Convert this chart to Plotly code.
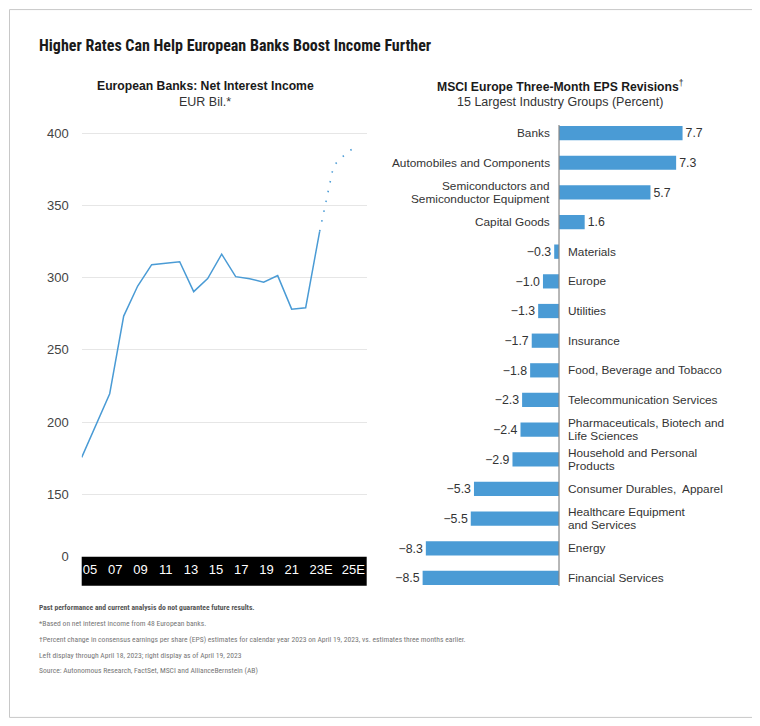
import plotly.graph_objects as go

# left panel: European banks net interest income (EUR bil.)
years = [2005, 2006, 2007, 2008, 2009, 2010, 2011, 2012, 2013, 2014,
         2015, 2016, 2017, 2018, 2019, 2020, 2021, 2022]
nii = [175.7, 198, 219.7, 273.4, 294.2, 309, 310, 311, 290.3, 299.3,
       316.2, 300.7, 299.3, 296.8, 301.4, 278.2, 279.2, 332]
est_years = [2022, 2023, 2024, 2024.7]
est_nii = [332, 377.5, 387, 391]

year_labels = ["05", "07", "09", "11", "13", "15", "17", "19", "21", "23E", "25E"]
year_label_pos = [2005.6, 2007.4, 2009.2, 2011.0, 2012.8, 2014.6, 2016.4, 2018.2, 2020.0, 2022.1, 2024.4]

y_labels = ["0", "150", "200", "250", "300", "350", "400"]
y_label_pos = [107, 150, 200, 250, 300, 350, 400]   # axis is broken between 0 and 150

# right panel: MSCI Europe three-month EPS revisions (%)
industries = ["Banks", "Automobiles and Components", "Semiconductors and<br>Semiconductor Equipment",
              "Capital Goods", "Materials", "Europe", "Utilities", "Insurance",
              "Food, Beverage and Tobacco", "Telecommunication Services",
              "Pharmaceuticals, Biotech and<br>Life Sciences", "Household and Personal<br>Products",
              "Consumer Durables,  Apparel", "Healthcare Equipment<br>and Services", "Energy",
              "Financial Services"]
revisions = [7.7, 7.3, 5.7, 1.6, -0.3, -1.0, -1.3, -1.7, -1.8, -2.3, -2.4, -2.9, -5.3, -5.5, -8.3, -8.5]

# page puts the figure 8px in; the capture squeezes the page height a little
OFF = 8
SY = 734 / 726
W, H = 760 - OFF, 734 - 2 * OFF
def px(x):
    return (x - OFF) / W
def py(y):
    return 1 - (y * SY - OFF) / H

BLUE = "#4a9bd5"
FONT = "Liberation Sans, Arial, sans-serif"
NARROW = "Liberation Sans Narrow, Roboto Condensed, Liberation Sans, sans-serif"

fig = go.Figure()

fig.add_trace(go.Scatter(x=years, y=nii, mode="lines", line=dict(color=BLUE, width=1.5),
                         xaxis="x", yaxis="y", showlegend=False, hoverinfo="x+y"))
fig.add_trace(go.Scatter(x=est_years, y=est_nii, mode="lines",
                         line=dict(color=BLUE, width=1.6, dash="1.5px,8.5px"),
                         xaxis="x", yaxis="y", showlegend=False, hoverinfo="x+y"))

fig.add_trace(go.Bar(x=revisions, y=list(range(len(industries))), orientation="h",
                     marker=dict(color=BLUE, line=dict(width=0)),
                     text=[f"{v:.1f}".replace("-", "\u2212") for v in revisions],
                     textposition="outside", textfont=dict(family=FONT, size=13, color="#333"),
                     cliponaxis=False, xaxis="x2", yaxis="y2", showlegend=False,
                     hovertext=[s.replace("<br>", " ") for s in industries], hoverinfo="text+x"))

fig.update_layout(
    width=W, height=H,
    margin=dict(l=0, r=0, t=0, b=0),
    paper_bgcolor="white", plot_bgcolor="white",
    font=dict(family=FONT, size=13, color="#333"),
    bargap=0.52,
    xaxis=dict(domain=[px(81.7), px(366.7)], range=[2005, 2025.36],
               showgrid=False, zeroline=False, showline=False, ticks="",
               tickvals=year_label_pos, ticktext=year_labels,
               tickfont=dict(color="white", size=13), ticklabelstandoff=3, fixedrange=True),
    yaxis=dict(domain=[py(556.7), py(120)], range=[107, 409],
               tickvals=y_label_pos, ticktext=y_labels,
               showgrid=True, gridcolor="#e6e6e6", gridwidth=1, zeroline=False, showline=False,
               ticks="", tickfont=dict(color="#444", size=13), ticklabelstandoff=12, fixedrange=True),
    xaxis2=dict(domain=[px(400), px(740)], range=[-9.91, 11.28], anchor="y2",
                visible=False, fixedrange=True),
    yaxis2=dict(domain=[py(592.8), py(118.2)], range=[15.5, -0.5], anchor="x2",
                visible=False, fixedrange=True),
)

shapes = [
    # outer frame
    dict(type="rect", xref="paper", yref="paper", x0=px(9.5), x1=px(753), y0=py(717.5), y1=py(9.5),
         line=dict(color="#c8c8c8", width=1), fillcolor="rgba(0,0,0,0)"),
    # black year band under the left chart
    dict(type="rect", xref="paper", yref="paper", x0=px(81.7), x1=px(366.7), y0=py(585.7), y1=py(556.7),
         line=dict(width=0), fillcolor="black", layer="below"),
    # zero line of the bar chart
    dict(type="line", xref="x2", yref="y2", x0=0, x1=0, y0=-0.27, y1=len(industries) - 1 + 0.27,
         line=dict(color="#888", width=1.2)),
]
fig.update_layout(shapes=shapes)

ann = []
ann.append(dict(text="<b>Higher Rates Can Help European Banks Boost Income Further</b>",
                x=px(37), y=py(45), xanchor="left", yanchor="middle",
                font=dict(family=NARROW, size=16, color="#1a1a1a")))
ann.append(dict(text="<b>European Banks: Net Interest Income</b>", x=px(205), y=py(86),
                xanchor="center", yanchor="middle", font=dict(size=12.2, color="#1a1a1a")))
ann.append(dict(text="EUR Bil.*", x=px(205), y=py(102), xanchor="center", yanchor="middle",
                font=dict(size=12.5, color="#333")))
ann.append(dict(text="<b>MSCI Europe Three-Month EPS Revisions</b><sup>\u2020</sup>", x=px(560), y=py(86),
                xanchor="center", yanchor="middle", font=dict(size=12.2, color="#1a1a1a")))
ann.append(dict(text="15 Largest Industry Groups (Percent)", x=px(560), y=py(102),
                xanchor="center", yanchor="middle", font=dict(size=12.5, color="#333")))

# category labels on the opposite side of the zero line
for i, (name, v) in enumerate(zip(industries, revisions)):
    lines = name.split("<br>")
    n = len(lines)
    for j, line in enumerate(lines):
        ann.append(dict(text=line, xref="x2", yref="y2", x=0, y=i,
                        xanchor="right" if v > 0 else "left", yanchor="middle",
                        xshift=-7 if v > 0 else 7, yshift=(n - 1) / 2 * 13 - j * 13,
                        font=dict(size=11.8, color="#333")))

notes = [
    "<b>Past performance and current analysis do not guarantee future results.</b>",
    "*Based on net interest income from 48 European banks.",
    "\u2020Percent change in consensus earnings per share (EPS) estimates for calendar year 2023 on April 19, 2023, vs. estimates three months earlier.",
    "Left display through April 18, 2023; right display as of April 19, 2023",
    "Source: Autonomous Research, FactSet, MSCI and AllianceBernstein (AB)",
]
note_y = [608, 624, 640, 656, 671]
for k, (t, yy) in enumerate(zip(notes, note_y)):
    ann.append(dict(text=t, x=px(37), y=py(yy), xanchor="left", yanchor="middle",
                    font=dict(family=NARROW, size=7.6, color="#555" if k == 0 else "#777")))

for a in ann:
    a.setdefault("xref", "paper")
    a.setdefault("yref", "paper")
    a["showarrow"] = False
fig.update_layout(annotations=ann)

fig.write_html("out.html", config={"displayModeBar": False})
